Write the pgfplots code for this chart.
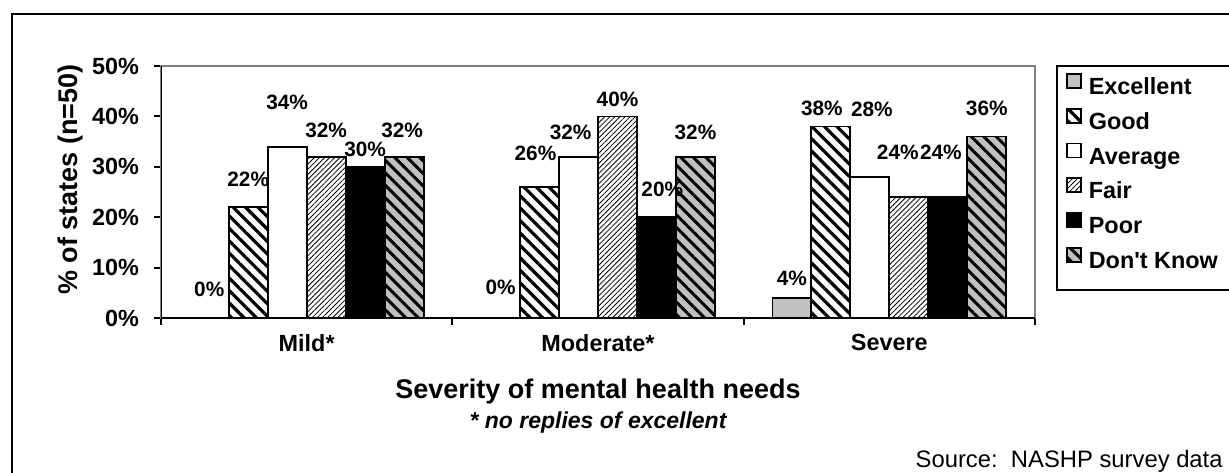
\documentclass[border=0pt]{standalone}
\usepackage{fontspec}
\setmainfont{Liberation Sans}[Ligatures=TeXOff]
\usepackage{pgfplots}
\pgfplotsset{compat=1.18}
\usetikzlibrary{patterns.meta}
\definecolor{silv}{HTML}{C0C0C0}
\definecolor{axgray}{HTML}{808080}
\newcommand{\fbig}{\fontsize{11.7}{14.5}\selectfont\bfseries}
\newcommand{\ftitle}{\fontsize{13.5}{16}\selectfont\bfseries}
\newcommand{\flab}{\fontsize{10.4}{12}\selectfont\bfseries}
\tikzset{
  goodpat/.style={pattern={Lines[angle=-45,distance=4.4pt,line width=1.6pt]},pattern color=black},
  fairpat/.style={pattern={Lines[angle=45,distance=1.8pt,line width=0.4pt]},pattern color=black},
  dkpat/.style={preaction={fill=silv},pattern={Lines[angle=-45,distance=4.4pt,line width=1.5pt]},pattern color=black},
}
\begin{document}
\begin{tikzpicture}
\begin{axis}[
  at={(80.5pt,77pt)}, anchor=south west,
  scale only axis, width=437pt, height=126pt,
  xmin=-0.5, xmax=2.5, ymin=0, ymax=50,
  enlarge x limits=false,
  axis line style={draw=axgray, line width=1pt},
  tick style={black, line width=1pt},
  tick align=outside, major tick length=3.5pt,
  xtick pos=bottom, ytick pos=left,
  xtick={-0.5,0.5,1.5,2.5}, xticklabels={,,,},
  extra x ticks={0,1,2},
  extra x tick labels={Mild*,Moderate*,Severe},
  extra x tick style={major tick length=0pt},
  xticklabel style={font=\fbig, yshift=-4.5pt},
  ytick={0,10,20,30,40,50},
  yticklabel={\pgfmathprintnumber{\tick}\%},
  yticklabel style={font=\fbig, xshift=-4pt},
  /pgf/number format/assume math mode=true,
  ylabel={\% of states (n=50)},
  ylabel style={font=\ftitle, at={(axis description cs:-0.1041,0.55)}, anchor=center},
  xlabel={Severity of mental health needs},
  xlabel style={font=\ftitle, at={(axis description cs:0.5,-0.3175)}, anchor=base},
  legend style={at={(axis description cs:1.0252,1)}, anchor=north west, draw=none, fill=none,
    font=\fbig, inner xsep=4.5pt, inner ysep=3.5pt, row sep=4.2pt, column sep=3.5pt,
    nodes={inner sep=0pt, text height=8.5pt, text depth=2.5pt}},
  legend cell align=left,
  legend image code/.code={\draw[#1, line width=0.7pt] (0pt,0.3pt) rectangle (7pt,7.3pt);},
  every axis plot/.append style={line width=0.9pt},
]
\addplot[ybar, bar width=0.1338, bar shift=-0.3345, draw=black, fill=silv] coordinates {(0,0) (1,0) (2,4)};
\addplot[ybar, bar width=0.1338, bar shift=-0.2007, draw=black, preaction={fill=white}, goodpat] coordinates {(0,22) (1,26) (2,38)};
\addplot[ybar, bar width=0.1338, bar shift=-0.0669, draw=black, fill=white] coordinates {(0,34) (1,32) (2,28)};
\addplot[ybar, bar width=0.1338, bar shift=0.0669, draw=black, preaction={fill=white}, fairpat] coordinates {(0,32) (1,40) (2,24)};
\addplot[ybar, bar width=0.1338, bar shift=0.2007, draw=black, fill=black] coordinates {(0,30) (1,20) (2,24)};
\addplot[ybar, bar width=0.1338, bar shift=0.3345, draw=black, dkpat] coordinates {(0,32) (1,32) (2,36)};
\legend{Excellent,Good,Average,Fair,Poor,Don't Know}
\addplot[only marks, mark=none, forget plot, point meta=explicit symbolic,
  nodes near coords={\pgfplotspointmeta\%},
  nodes near coords style={anchor=center, font=\flab, inner sep=0pt}]
  table[meta=lab] {
x y lab
-0.3345 5.75 0
-0.2007 27.6 22
-0.0669 42.8 34
0.0669 37.2 32
0.2007 33.5 30
0.3275 37.2 32
0.6655 6.1 0
0.7853 32.7 26
0.9061 36.9 32
1.0669 43.4 40
1.2207 25.6 20
1.3345 36.9 32
1.6655 7.9 4
1.7683 41.5 38
1.9401 41.5 28
2.0289 32.8 24
2.1767 32.8 24
2.3345 41.5 36
};
\draw[black, line width=1pt] (rel axis cs:0,1) -- (rel axis cs:0,0) -- (rel axis cs:1,0);
\end{axis}
\node[font=\fontsize{11.5}{14}\selectfont\bfseries\itshape, anchor=base] at (299pt,22pt) {* no replies of excellent};
\draw[line width=1pt] (528.5pt,91pt) rectangle (640pt,203pt);
\draw[line width=1.3pt] (6pt,-10pt) -- (6pt,229pt) -- (630pt,229pt);
\node[font=\fontsize{11.9}{14}\selectfont, anchor=base east, inner sep=0pt] at (611.5pt,2.5pt) {Source:\ \ NASHP survey data};
\pgfresetboundingbox
\path[use as bounding box] (0,0) rectangle (614.5pt,236pt);
\end{tikzpicture}
\end{document}
